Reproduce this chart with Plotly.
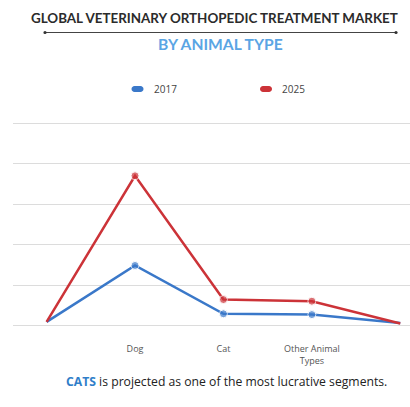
import plotly.graph_objects as go

# ---- data ----
x_index = [0, 1, 2, 3, 4]
values_2017 = [0.1, 1.49, 0.30, 0.28, 0.07]
values_2025 = [0.1, 3.70, 0.65, 0.61, 0.06]
series_names = ["2017", "2025"]
tick_positions = [1, 2, 3]
tick_labels = ["Dog", "Cat", "Other Animal<br>Types"]

W, H = 410, 407
L, R, T, B = 13, 0, 119, 77

BLUE = "#3a78c9"
RED = "#cc3338"

def px(xv):
    return (xv - L) / (W - L - R)

def py(yv):
    return (H - B - yv) / (H - T - B)

fig = go.Figure()
marker_sizes = [0, 8, 8, 8, 0]
for name, vals, col in [(series_names[0], values_2017, BLUE), (series_names[1], values_2025, RED)]:
    fig.add_trace(go.Scatter(
        x=x_index, y=vals, mode="lines+markers", name=name,
        line=dict(color=col, width=2.5),
        marker=dict(color=col, size=marker_sizes),
        showlegend=False, hoverinfo="skip"))

shapes = []
annotations = []

# title
annotations.append(dict(x=px(214), y=py(18), xref="paper", yref="paper",
                        text="<b>GLOBAL VETERINARY ORTHOPEDIC TREATMENT MARKET</b>",
                        showarrow=False, xanchor="center", yanchor="middle",
                        font=dict(family="Lato", size=13.4, color="#2b2b2b")))
shapes.append(dict(type="line", xref="paper", yref="paper",
                   x0=px(45), x1=px(396), y0=py(32.5), y1=py(32.5),
                   line=dict(color="#444", width=1)))
for cx in (45, 396):
    shapes.append(dict(type="circle", xref="paper", yref="paper",
                       x0=px(cx - 1.6), x1=px(cx + 1.6), y0=py(32.5 - 1.6), y1=py(32.5 + 1.6),
                       fillcolor="#333", line=dict(width=0)))
annotations.append(dict(x=px(220), y=py(44), xref="paper", yref="paper",
                        text="<b>BY ANIMAL TYPE</b>", showarrow=False,
                        xanchor="center", yanchor="middle",
                        font=dict(family="Lato", size=15.6, color="#5aa5e4")))

# legend (rounded pills + text)
def pill(x0, x1, yc, h):
    r = h / 2
    k = 0.55 * r
    pts = (f"M {px(x0 + r)},{py(yc - r)} L {px(x1 - r)},{py(yc - r)} "
           f"C {px(x1 - r + k)},{py(yc - r)} {px(x1)},{py(yc - k)} {px(x1)},{py(yc)} "
           f"C {px(x1)},{py(yc + k)} {px(x1 - r + k)},{py(yc + r)} {px(x1 - r)},{py(yc + r)} "
           f"L {px(x0 + r)},{py(yc + r)} "
           f"C {px(x0 + r - k)},{py(yc + r)} {px(x0)},{py(yc + k)} {px(x0)},{py(yc)} "
           f"C {px(x0)},{py(yc - k)} {px(x0 + r - k)},{py(yc - r)} {px(x0 + r)},{py(yc - r)} Z")
    return pts

for (x0, name, col) in [(131.5, series_names[0], BLUE), (260, series_names[1], RED)]:
    shapes.append(dict(type="path", xref="paper", yref="paper",
                       path=pill(x0, x0 + 12, 89, 6),
                       fillcolor=col, line=dict(width=0)))
    annotations.append(dict(x=px(x0 + 20), y=py(89), xref="paper", yref="paper",
                            text=name, showarrow=False, xanchor="left", yanchor="middle",
                            font=dict(family="Open Sans", size=10, color="#444")))

# footer
annotations.append(dict(x=px(226), y=py(381), xref="paper", yref="paper",
                        text="<b><span style='color:#2f7ec9'>CATS</span></b> is projected as one of the most lucrative segments.",
                        showarrow=False, xanchor="center", yanchor="middle",
                        font=dict(family="Open Sans", size=12.2, color="#222")))

fig.update_layout(
    width=W, height=H, autosize=False,
    margin=dict(l=L, r=R, t=T, b=B),
    paper_bgcolor="white", plot_bgcolor="white",
    shapes=shapes, annotations=annotations,
    xaxis=dict(range=[-0.38, 4.11], tickvals=tick_positions, ticktext=tick_labels,
               showgrid=False, zeroline=False, showline=False,
               ticks="outside", ticklen=10, tickcolor="rgba(0,0,0,0)",
               tickfont=dict(family="Open Sans", size=9, color="#555")),
    yaxis=dict(range=[-0.1, 5.1], tickvals=[0, 1, 2, 3, 4, 5], showticklabels=False,
               showgrid=True, gridcolor="#dcdcdc", gridwidth=1,
               zeroline=False, showline=False),
)

fig.write_html("out.html", config={"displayModeBar": False},
               post_script="document.body.style.margin='0';")
